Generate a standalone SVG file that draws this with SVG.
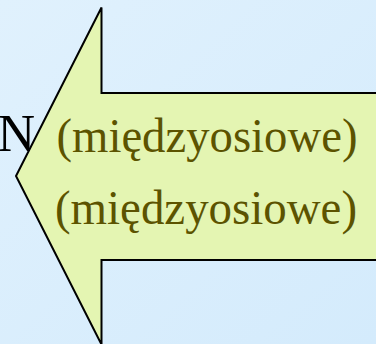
<svg xmlns="http://www.w3.org/2000/svg" width="376" height="344" viewBox="0 0 376 344">
<defs>
<linearGradient id="bg" x1="0" y1="0" x2="1" y2="1">
<stop offset="0" stop-color="#e0f1fd"/>
<stop offset="1" stop-color="#d4ebfc"/>
</linearGradient>
<style>
.lbl{font-family:"Liberation Serif","Times New Roman",serif;font-size:49px;fill:#5c5300}
.n{font-family:"Liberation Serif","Times New Roman",serif;font-size:52px;fill:#000}
.arrow{fill:#e4f5b2;stroke:#000;stroke-width:2;stroke-linejoin:miter}
</style>
</defs>
<rect width="376" height="344" fill="url(#bg)"/>
<g id="arrow">
<path class="arrow" d="M380,93 L101.5,93 L101.5,7.5 L16,176 L101.5,344.5 L101.5,260 L380,260 Z"/>
<text class="lbl" x="56.5" y="152" textLength="301" lengthAdjust="spacingAndGlyphs">(międzyosiowe)</text>
<text class="lbl" x="55" y="224" textLength="302" lengthAdjust="spacingAndGlyphs">(międzyosiowe)</text>
</g>
<g id="n">
<text class="n" x="-2.5" y="151">N</text>
</g>
</svg>
